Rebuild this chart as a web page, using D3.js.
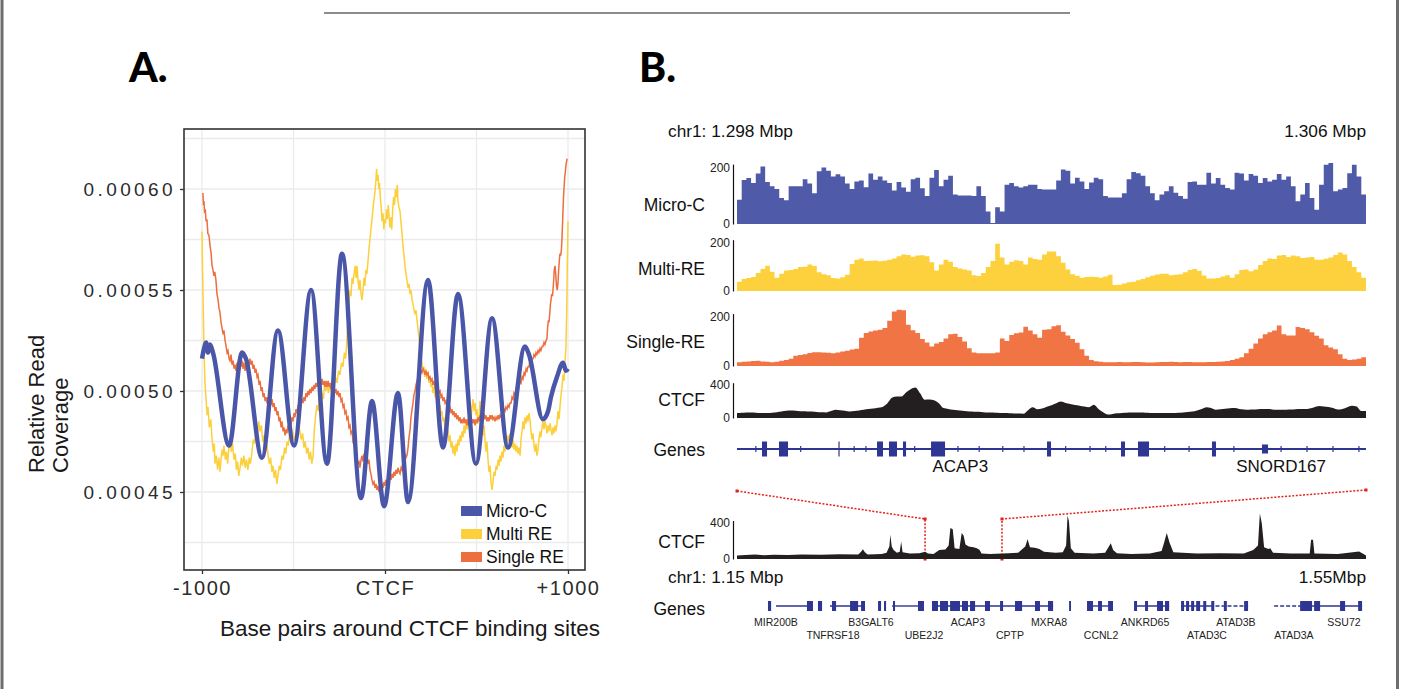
<!DOCTYPE html>
<html lang="en">
<head>
<meta charset="UTF-8"/>
<title>Micro-C vs RE coverage around CTCF</title>
<script src="https://d3js.org/d3.v7.min.js"></script>
<style>
  body { margin: 0; background: #fff; }
  svg text { font-family: "Liberation Sans", Arial, sans-serif; }
</style>
</head>
<body>
<script>

// ---------- panel A data (bp around CTCF, relative coverage) ----------
var microcPos = [-1000,-989,-978,-967,-956,-940,-852,-781,-760,-672,-585,-497,-404,-317,-235,-131,-71,-5,71,126,235,317,399,497,585,672,765,787,863,891,907,940,973,989,1000];
var microcVal = [0.000516,0.000521,0.000524,0.000519,0.000523,0.000519,0.000473,0.000519,0.000516,0.000467,0.00053,0.000473,0.00055,0.000464,0.000568,0.000447,0.000495,0.000443,0.000499,0.000445,0.000555,0.000472,0.000548,0.000464,0.000536,0.000472,0.000522,0.000518,0.000486,0.00049,0.000497,0.000507,0.000514,0.00051,0.000511];

var multiPos = [-1000,-997,-993,-989,-984,-978,-972,-967,-960,-952,-945,-938,-933,-929,-922,-915,-908,-902,-896,-890,-885,-880,-872,-866,-860,-853,-847,-840,-833,-825,-818,-812,-805,-799,-792,-785,-779,-771,-764,-757,-749,-742,-735,-727,-720,-713,-705,-698,-690,-683,-676,-668,-661,-654,-646,-639,-632,-625,-618,-612,-605,-598,-591,-585,-578,-571,-563,-556,-549,-542,-536,-529,-521,-515,-508,-500,-493,-486,-478,-472,-465,-458,-450,-443,-436,-428,-421,-414,-407,-400,-393,-386,-379,-372,-365,-358,-351,-344,-337,-330,-323,-317,-309,-301,-294,-286,-278,-270,-262,-254,-246,-238,-230,-222,-215,-208,-202,-196,-191,-186,-180,-175,-169,-163,-158,-153,-147,-142,-137,-131,-126,-120,-115,-110,-104,-99,-93,-88,-82,-77,-71,-66,-60,-55,-50,-46,-42,-38,-34,-30,-25,-20,-16,-11,-6,-2,3,8,13,18,22,27,32,37,42,47,52,57,62,67,71,76,82,87,93,98,104,109,115,120,126,131,137,142,148,153,159,164,169,175,180,186,191,197,202,208,213,218,224,229,235,241,246,251,257,262,268,273,279,284,290,295,301,306,311,317,322,328,333,339,344,350,355,361,366,371,377,382,388,393,399,404,410,415,421,426,432,437,443,448,454,459,465,470,476,481,487,492,497,503,508,514,519,525,530,536,541,546,552,557,563,568,574,579,585,590,596,601,607,612,618,623,628,634,639,645,650,656,661,667,672,678,683,689,694,700,705,710,716,721,727,732,738,743,749,754,760,765,771,776,781,787,792,798,803,809,814,820,825,830,836,841,847,852,858,863,869,874,880,885,891,896,902,907,913,918,923,929,934,940,945,951,956,962,967,973,978,984,989,993,996,1000];
var multiVal = [0.000579,0.00056,0.00054,0.00052,0.000504,0.000496,0.000488,0.000492,0.000482,0.000486,0.000476,0.00047,0.000474,0.000464,0.000468,0.000461,0.000467,0.00046,0.000466,0.000471,0.000468,0.000473,0.000466,0.00047,0.000464,0.000472,0.000477,0.00047,0.000474,0.000466,0.000469,0.000461,0.000465,0.000458,0.000462,0.000467,0.000463,0.000468,0.000462,0.000466,0.000461,0.000467,0.000464,0.00047,0.000476,0.000474,0.00048,0.000478,0.000485,0.00048,0.000483,0.000475,0.000478,0.000471,0.000474,0.000468,0.000464,0.000467,0.00046,0.000463,0.000457,0.000461,0.000454,0.000458,0.000463,0.000461,0.000468,0.000466,0.000472,0.000469,0.000475,0.000473,0.000479,0.000476,0.000481,0.000478,0.000475,0.000479,0.000477,0.000483,0.00048,0.000476,0.000479,0.000472,0.000475,0.000469,0.000472,0.000466,0.00047,0.000464,0.000468,0.000481,0.000488,0.000493,0.00049,0.000497,0.000494,0.000499,0.000496,0.000503,0.0005,0.000504,0.000499,0.000503,0.0005,0.000506,0.000502,0.000507,0.000504,0.00051,0.000508,0.000514,0.000512,0.000519,0.000516,0.000526,0.000538,0.000544,0.00055,0.000547,0.000556,0.000553,0.000558,0.000562,0.000556,0.000562,0.000554,0.00055,0.000555,0.000548,0.000545,0.00055,0.000556,0.000552,0.00056,0.000558,0.000564,0.00057,0.000575,0.00058,0.000585,0.00059,0.000595,0.000598,0.000604,0.00061,0.000604,0.000607,0.0006,0.000603,0.000595,0.00059,0.000584,0.000588,0.00058,0.000585,0.000583,0.00059,0.000585,0.000592,0.000587,0.000581,0.000586,0.00058,0.00059,0.000596,0.000592,0.0006,0.000596,0.000602,0.000594,0.000591,0.000589,0.000584,0.000578,0.000572,0.000567,0.000562,0.000558,0.000555,0.000551,0.000553,0.000548,0.00055,0.000545,0.000543,0.00054,0.000538,0.00054,0.000535,0.000531,0.000526,0.00052,0.000516,0.000514,0.00051,0.000512,0.000507,0.000511,0.000506,0.000509,0.000504,0.000506,0.000502,0.000504,0.000499,0.000502,0.000497,0.000499,0.000494,0.000497,0.000491,0.000493,0.000488,0.00049,0.000485,0.000487,0.000481,0.000484,0.000478,0.000481,0.000475,0.000478,0.000472,0.000475,0.000469,0.000473,0.000468,0.000474,0.00047,0.000476,0.000473,0.000478,0.000475,0.00048,0.000477,0.000483,0.000479,0.000485,0.000481,0.000487,0.000484,0.000489,0.000486,0.000492,0.000496,0.00049,0.000494,0.000488,0.000491,0.000484,0.000487,0.000495,0.000489,0.000484,0.000478,0.000483,0.000476,0.00047,0.000475,0.000466,0.00046,0.000463,0.000455,0.000451,0.000455,0.00046,0.000458,0.000463,0.000461,0.000466,0.000463,0.000468,0.000465,0.00047,0.000467,0.000473,0.00047,0.000476,0.000473,0.000478,0.000475,0.000479,0.000476,0.000472,0.000476,0.000471,0.000474,0.00047,0.000473,0.000469,0.000472,0.000468,0.000476,0.00048,0.000485,0.000481,0.000487,0.000484,0.000488,0.000485,0.000489,0.000486,0.00048,0.000476,0.000479,0.000473,0.00047,0.000474,0.000468,0.000471,0.000476,0.00048,0.000477,0.000482,0.000485,0.000481,0.000485,0.000483,0.000479,0.000483,0.00048,0.000484,0.000481,0.000478,0.000482,0.000479,0.000483,0.00048,0.000484,0.00049,0.000486,0.000492,0.000498,0.000502,0.000508,0.000505,0.000515,0.000522,0.00054,0.00056,0.000584];

var singlePos = [-995,-992,-989,-986,-982,-978,-973,-968,-962,-956,-950,-945,-940,-935,-930,-924,-918,-912,-907,-902,-896,-890,-885,-880,-874,-868,-863,-858,-852,-847,-841,-836,-830,-825,-820,-814,-809,-803,-798,-792,-787,-781,-776,-771,-765,-760,-754,-749,-743,-738,-732,-727,-721,-716,-710,-705,-699,-694,-688,-683,-677,-672,-666,-661,-655,-650,-645,-639,-634,-628,-623,-617,-612,-606,-601,-596,-590,-585,-579,-574,-568,-563,-557,-552,-546,-541,-536,-530,-525,-519,-514,-508,-503,-497,-492,-486,-481,-475,-470,-465,-459,-454,-448,-443,-437,-432,-426,-421,-415,-410,-404,-399,-393,-388,-383,-377,-372,-366,-361,-355,-350,-344,-339,-333,-328,-322,-317,-311,-306,-300,-295,-290,-284,-279,-273,-268,-262,-257,-251,-246,-240,-235,-229,-224,-219,-213,-208,-202,-197,-191,-186,-180,-175,-169,-164,-158,-153,-148,-142,-137,-131,-126,-120,-115,-109,-104,-98,-93,-88,-82,-77,-71,-66,-60,-55,-49,-44,-38,-33,-27,-22,-16,-11,-5,0,5,11,16,22,27,33,38,44,49,55,60,66,71,77,82,88,93,98,104,109,115,120,126,131,137,142,148,153,158,164,169,175,180,186,191,197,202,208,213,218,224,229,235,240,246,251,257,262,268,273,279,284,290,295,301,306,311,317,322,328,333,339,344,350,355,361,366,371,377,382,388,393,399,404,410,415,421,426,432,437,443,448,454,459,465,470,476,481,487,492,497,503,508,514,519,525,530,536,541,546,552,557,563,568,574,579,585,590,596,601,607,612,618,623,628,634,639,645,650,656,661,667,672,678,683,689,694,700,705,710,716,721,727,732,738,743,749,754,760,765,771,776,781,787,792,798,803,809,814,820,825,830,836,841,847,852,858,863,869,874,880,885,889,893,896,900,904,907,911,915,918,922,925,929,933,937,941,945,949,953,956,960,964,967,971,975,978,982,985,989,993,995];
var singleVal = [0.000598,0.000592,0.000594,0.000588,0.00059,0.000584,0.000585,0.000578,0.000577,0.000572,0.000568,0.000562,0.00056,0.000557,0.000559,0.000555,0.000548,0.000545,0.000541,0.000539,0.000534,0.000531,0.000528,0.00053,0.000525,0.000522,0.000519,0.00052,0.000516,0.000515,0.000518,0.000513,0.000515,0.000511,0.000513,0.00051,0.000514,0.000512,0.000517,0.000515,0.000512,0.000515,0.000511,0.000514,0.00051,0.000513,0.000511,0.000515,0.000512,0.000516,0.000513,0.000515,0.000511,0.000513,0.000509,0.000511,0.000507,0.000508,0.000503,0.000505,0.0005,0.000502,0.000497,0.000499,0.000495,0.000497,0.000494,0.000497,0.000494,0.000497,0.000493,0.000496,0.000492,0.000494,0.00049,0.000492,0.000488,0.00049,0.000485,0.000487,0.000482,0.000485,0.00048,0.000482,0.000478,0.000481,0.000479,0.000483,0.000481,0.000485,0.000483,0.000487,0.000485,0.000489,0.000487,0.000491,0.000489,0.000493,0.000491,0.000494,0.000493,0.000496,0.000494,0.000497,0.000495,0.000499,0.000497,0.0005,0.000498,0.000501,0.000499,0.000502,0.0005,0.000503,0.000501,0.000504,0.000502,0.000505,0.000503,0.000506,0.000503,0.000506,0.000503,0.000505,0.000502,0.000505,0.000502,0.000505,0.000502,0.000504,0.000501,0.000503,0.0005,0.000502,0.000499,0.000501,0.000498,0.0005,0.000497,0.000499,0.000495,0.000496,0.000492,0.000493,0.000489,0.00049,0.000486,0.000487,0.000482,0.000483,0.000479,0.00048,0.000475,0.000476,0.000471,0.00047,0.000466,0.000464,0.000465,0.000462,0.000466,0.000468,0.000465,0.000469,0.000467,0.00047,0.000468,0.000464,0.000466,0.000461,0.000459,0.000456,0.000454,0.000455,0.000452,0.000454,0.000451,0.000453,0.00045,0.000453,0.000451,0.000454,0.000452,0.000455,0.000453,0.000456,0.000454,0.000457,0.000455,0.000458,0.000456,0.000459,0.000457,0.00046,0.000458,0.000461,0.000459,0.000462,0.00046,0.000459,0.000462,0.000461,0.000465,0.000466,0.000469,0.000467,0.000468,0.000472,0.000477,0.000481,0.000487,0.000491,0.000494,0.000498,0.0005,0.000503,0.000505,0.000504,0.000507,0.000508,0.00051,0.000509,0.000511,0.00051,0.000508,0.00051,0.000508,0.000509,0.000506,0.000507,0.000505,0.000506,0.000503,0.000505,0.000502,0.000503,0.0005,0.000502,0.000499,0.0005,0.000497,0.000498,0.000495,0.000497,0.000494,0.000495,0.000492,0.000494,0.000491,0.000492,0.000489,0.000491,0.000488,0.00049,0.000487,0.000489,0.000486,0.000488,0.000485,0.000487,0.000484,0.000486,0.000484,0.000487,0.000484,0.000486,0.000483,0.000486,0.000483,0.000485,0.000483,0.000486,0.000484,0.000486,0.000483,0.000486,0.000484,0.000487,0.000485,0.000488,0.000486,0.000489,0.000487,0.000489,0.000486,0.000488,0.000485,0.000487,0.000485,0.000488,0.000486,0.000488,0.000486,0.000487,0.000485,0.000487,0.000486,0.000488,0.000486,0.000488,0.000487,0.000489,0.000488,0.000491,0.00049,0.000492,0.000491,0.000493,0.000492,0.000494,0.000494,0.000497,0.000496,0.000499,0.000498,0.000501,0.0005,0.000503,0.000502,0.000505,0.000504,0.000507,0.000506,0.000509,0.000508,0.000511,0.00051,0.000512,0.000512,0.000515,0.000514,0.000516,0.000516,0.000518,0.000517,0.000519,0.000518,0.00052,0.000519,0.000521,0.00052,0.000522,0.000522,0.000524,0.000523,0.000525,0.000526,0.000532,0.000535,0.000534,0.000538,0.000543,0.000545,0.000548,0.000547,0.00055,0.000555,0.00056,0.000562,0.000558,0.000552,0.00055,0.000553,0.00056,0.000565,0.000568,0.000567,0.00057,0.000575,0.000585,0.000595,0.0006,0.000606,0.000608,0.000612,0.000614,0.000615];

var aSeries = ["Micro-C", "Multi RE", "Single RE"];
var aColors = ["#4a56a8", "#fcd03c", "#ec6f3f"];
var aYTicks = [0.00045, 0.0005, 0.00055, 0.0006];
var aXTicks = [-1000, 0, 1000];
var aXLabels = ["-1000", "CTCF", "+1000"];

// ---------- panel B data ----------
// top window 1.298 - 1.306 Mbp, evenly spaced bins
var microTrack = [87,157,164,146,180,205,150,135,125,93,85,135,135,135,160,145,110,188,202,190,170,178,170,145,125,152,155,131,180,158,170,155,146,120,150,130,115,160,165,128,100,165,193,135,158,172,105,102,102,102,100,135,100,45,4,60,45,140,146,135,130,135,140,140,125,123,123,123,155,195,190,145,165,152,125,148,165,160,100,95,95,95,110,160,186,181,172,135,110,85,105,117,135,112,100,90,150,152,140,140,183,145,164,140,129,123,183,180,155,179,172,146,164,152,158,179,158,170,135,81,105,146,93,51,140,212,218,117,123,129,181,212,170,105];
var multiTrack = [39,50,54,58,75,92,105,80,55,72,85,87,92,100,101,110,104,78,70,66,54,52,57,68,112,130,135,125,126,127,124,126,130,135,145,152,150,143,148,149,145,120,85,110,130,122,100,94,90,85,66,62,75,100,125,197,140,110,122,128,125,110,140,133,130,152,165,165,145,118,90,70,64,55,58,59,58,55,60,68,25,26,31,36,39,45,50,57,64,69,72,72,66,68,70,78,88,92,84,65,52,52,54,60,66,55,70,88,90,82,90,108,125,135,133,148,150,142,148,145,138,140,142,130,130,134,140,150,160,152,125,100,78,55];
var singleTrack = [15,17,18,20,21,18,17,15,17,21,24,30,42,45,48,53,56,56,55,54,52,55,59,62,67,70,115,135,141,145,148,155,185,222,230,228,168,146,135,110,96,80,92,98,112,130,132,118,100,72,55,52,52,52,52,55,112,102,127,134,137,160,145,130,115,148,150,162,166,140,124,110,95,68,42,25,19,17,15,15,15,16,15,15,16,16,15,14,14,15,16,16,17,16,15,16,16,15,15,15,16,16,17,18,20,24,30,36,52,70,92,112,130,138,145,165,130,125,124,159,155,150,138,123,112,85,76,68,48,30,25,27,30,36];
var ctcfTrack = [60,64,68,66,63,60,60,60,66,75,85,92,90,85,82,80,78,74,70,68,84,100,95,88,80,85,92,100,108,115,125,134,175,245,260,260,310,350,370,300,222,225,215,180,120,110,100,95,88,82,78,75,72,68,66,64,62,60,58,56,54,52,95,130,105,115,135,155,180,200,182,170,158,150,140,130,160,110,70,42,50,58,62,65,66,68,66,64,62,60,60,60,60,60,64,68,72,78,92,110,130,120,100,105,112,118,120,110,104,100,102,106,108,108,104,100,100,100,102,105,108,108,115,130,145,140,132,120,102,110,130,148,140,85];

// top gene model (kb)
var topExonStart = [1298.318,1298.534,1299.290,1299.781,1299.933,1300.111,1300.468,1301.943,1302.884,1303.100,1304.041,1304.677];
var topExonEnd   = [1298.382,1298.649,1299.305,1299.857,1300.035,1300.150,1300.646,1301.994,1302.935,1303.240,1304.092,1304.754];
var topExonSmall = [false,false,false,false,false,false,false,false,false,false,false,true];
var topArrows = [1298.24,1298.81,1299.49,1299.64,1300.26,1300.81,1301.08,1301.38,1301.65,1302.18,1302.49,1302.69,1303.44,1303.75,1304.32,1304.92,1305.25,1305.58,1305.91];
var topGeneNames = ["ACAP3", "SNORD167"];
var topGenePos = [1300.84, 1304.92];

// wide window 1.15 - 1.55 Mbp, CTCF (kb, value)
var ctcfWidePos = [1150,1155.4,1161.4,1167.3,1173.3,1182.3,1191.3,1203.2,1215.2,1227.1,1228.9,1230.1,1231.3,1233.1,1242.1,1245.1,1246.9,1247.5,1248.4,1249.6,1251.7,1253.5,1254.4,1255.3,1260,1266,1269.6,1271.4,1275,1278.6,1282.5,1284.6,1285.7,1287.2,1288.4,1291.4,1292.9,1294.1,1295.3,1297.4,1300.4,1302.5,1304.3,1305.5,1310.9,1318.6,1322.8,1328.8,1333.3,1334.8,1336.3,1339.3,1342.3,1345.2,1352.7,1357.2,1359.3,1360.2,1361.1,1362.3,1364.7,1376.6,1384.1,1386.2,1387.7,1389.2,1391.6,1400.6,1412.5,1420,1421.5,1423.3,1425.1,1427.5,1442.4,1457.4,1472.3,1478.3,1481.3,1482.5,1483.7,1485.2,1487.9,1489.1,1490.9,1502.2,1514.2,1515.1,1516.3,1517.2,1532.1,1545.6,1549.5,1550];
var ctcfWideVal = [40,45,50,42,48,44,50,46,52,50,80,108,75,50,55,70,140,270,140,100,70,80,195,75,60,65,80,60,55,100,105,150,344,330,120,110,288,260,160,138,130,120,100,60,55,60,65,70,140,220,130,125,110,80,70,75,150,482,420,120,70,60,70,130,176,100,65,55,60,90,176,288,180,75,60,65,60,100,150,505,400,130,110,120,70,60,62,213,213,62,55,82,45,40];
var zoomFrom = 1269.6, zoomTo = 1318.5;

// wide gene models (kb)
var spanStart = [1174.8,1209.1,1248.6,1274.0,1372.6,1402.5,1432.4,1490.3];
var spanEnd   = [1198.3,1231.4,1268.9,1351.0,1389.1,1424.8,1475.0,1547.5];
var dashStart = [1453.0, 1490.3];
var dashEnd   = [1475.0, 1508.1];
var exonStart = [1169.7,1194.5,1201.5,1210.4,1221.9,1228.9,1239.7,1243.5,1249.2,1265.1,1274.0,1279.1,1285.5,1293.1,1298.2,1307.7,1317.3,1326.8,1339.5,1347.8,1361.2,1372.6,1379.6,1386.0,1402.5,1409.5,1417.1,1422.2,1432.4,1435.6,1438.8,1442.0,1446.5,1451.6,1459.6,1472.5,1508.1,1517.0,1533.5,1545.0];
var exonEnd   = [1171.7,1198.3,1204.1,1213.0,1227.0,1231.4,1241.6,1244.8,1250.5,1268.9,1277.8,1284.2,1291.8,1296.9,1301.4,1310.9,1319.2,1331.3,1342.7,1351.0,1362.4,1376.4,1382.1,1389.1,1404.4,1411.4,1420.9,1424.8,1434.3,1437.5,1440.7,1444.5,1448.4,1453.5,1461.5,1475.0,1515.7,1520.8,1536.7,1547.5];
var geneNames = ["MIR200B","TNFRSF18","B3GALT6","UBE2J2","ACAP3","CPTP","MXRA8","CCNL2","ANKRD65","ATAD3C","ATAD3B","ATAD3A","SSU72"];
var genePos   = [1174.8,1211,1235.2,1268.9,1296.9,1323.6,1348.4,1381.5,1409.5,1448.9,1467.3,1504.2,1536];
var geneRow   = [0,1,0,1,0,1,0,1,0,1,0,1,0];

var trackColors = {micro: "#4f5aa8", multi: "#fdd13e", single: "#f17444", ctcf: "#231f20", gene: "#2e3592"};

// ---------- svg ----------
var w = 1401, h = 689;
var svg = d3.select("body").append("svg").attr("width", w).attr("height", h);

// page frame
svg.append("line").attr("x1", 2).attr("x2", 2).attr("y1", 0).attr("y2", h)
	.attr("stroke", "#6d6d6d").attr("stroke-width", 3);
svg.append("line").attr("x1", 1397.5).attr("x2", 1397.5).attr("y1", 0).attr("y2", h)
	.attr("stroke", "#6d6d6d").attr("stroke-width", 3);
svg.append("line").attr("x1", 324).attr("x2", 1070).attr("y1", 13).attr("y2", 13)
	.attr("stroke", "#8c8c8c").attr("stroke-width", 2);

svg.append("text").attr("x", 129).attr("y", 82).text("A.")
	.style("font-family", "Lato, sans-serif").style("font-weight", 900).style("font-size", "41px");
svg.append("text").attr("x", 639).attr("y", 82).text("B.")
	.style("font-family", "Lato, sans-serif").style("font-weight", 900).style("font-size", "41px");

// ================= panel A =================
var box = {l: 184, t: 129, r: 585, b: 570};
var ax = d3.scaleLinear().domain([-1000, 1000]).range([202, 568]);
var ay = d3.scaleLinear().domain([0.00045, 0.0006]).range([492, 189]);

var gA = svg.append("g");
svg.append("clipPath").attr("id", "clipA").append("rect")
	.attr("x", box.l).attr("y", box.t).attr("width", box.r - box.l).attr("height", box.b - box.t);

// grid
var xGrid = [-1000, -500, 0, 500, 1000];
var yGrid = [0.000425, 0.00045, 0.000475, 0.0005, 0.000525, 0.00055, 0.000575, 0.0006, 0.000625];
gA.selectAll(".vg").data(xGrid).enter().append("line")
	.attr("x1", function(d){ return ax(d); }).attr("x2", function(d){ return ax(d); })
	.attr("y1", box.t).attr("y2", box.b)
	.attr("stroke", "#ebebeb").attr("stroke-width", 1.3);
gA.selectAll(".hg").data(yGrid).enter().append("line")
	.attr("x1", box.l).attr("x2", box.r)
	.attr("y1", function(d){ return ay(d); }).attr("y2", function(d){ return ay(d); })
	.attr("stroke", "#ebebeb").attr("stroke-width", 1.3);

var lineA = d3.line()
	.x(function(d){ return ax(d[0]); })
	.y(function(d){ return ay(d[1]); });

var plotA = gA.append("g").attr("clip-path", "url(#clipA)");
plotA.append("path").datum(d3.zip(multiPos, multiVal))
	.attr("d", lineA.curve(d3.curveLinear))
	.attr("fill", "none").attr("stroke", aColors[1]).attr("stroke-width", 1.5);
plotA.append("path").datum(d3.zip(singlePos, singleVal))
	.attr("d", lineA.curve(d3.curveLinear))
	.attr("fill", "none").attr("stroke", aColors[2]).attr("stroke-width", 1.5);
plotA.append("path").datum(d3.zip(microcPos, microcVal))
	.attr("d", lineA.curve(d3.curveMonotoneX))
	.attr("fill", "none").attr("stroke", aColors[0]).attr("stroke-width", 4.5)
	.attr("stroke-linejoin", "round");

// border
gA.append("rect").attr("x", box.l).attr("y", box.t)
	.attr("width", box.r - box.l).attr("height", box.b - box.t)
	.attr("fill", "none").attr("stroke", "#333").attr("stroke-width", 1.6);

// axes
var yAxisA = d3.axisLeft(ay).tickValues(aYTicks).tickFormat(d3.format(".5f"))
	.tickSize(4).tickPadding(4);
var gy = gA.append("g").attr("transform", "translate(" + box.l + ",0)").call(yAxisA);
gy.select(".domain").remove();
gy.selectAll("line").attr("stroke", "#333").attr("stroke-width", 1.3);
gy.selectAll("text").style("font-size", "19px").style("letter-spacing", "3.4px")
	.attr("fill", "#2b2b2b");

var xAxisA = d3.axisBottom(ax).tickValues(aXTicks)
	.tickFormat(function(d, i){ return aXLabels[i]; })
	.tickSize(4).tickPadding(7);
var gx = gA.append("g").attr("transform", "translate(0," + box.b + ")").call(xAxisA);
gx.select(".domain").remove();
gx.selectAll("line").attr("stroke", "#333").attr("stroke-width", 1.3);
gx.selectAll("text").style("font-size", "20px").style("letter-spacing", "1.6px")
	.attr("fill", "#2b2b2b");

// axis titles
gA.append("text").attr("transform", "translate(44,473) rotate(-90)")
	.style("font-size", "22px").attr("fill", "#1a1a1a").text("Relative Read");
gA.append("text").attr("transform", "translate(68,473) rotate(-90)")
	.style("font-size", "22px").attr("fill", "#1a1a1a").text("Coverage");
gA.append("text").attr("x", 410).attr("y", 636).attr("text-anchor", "middle")
	.style("font-size", "22.5px").attr("fill", "#1a1a1a").text("Base pairs around CTCF binding sites");

// legend
var leg = gA.selectAll(".leg").data(aSeries).enter().append("g")
	.attr("transform", function(d, i){ return "translate(461," + (511 + i * 23) + ")"; });
leg.append("rect").attr("x", 0).attr("y", -5).attr("width", 21).attr("height", 10)
	.attr("fill", function(d, i){ return aColors[i]; });
leg.append("text").attr("x", 25).attr("dy", "0.36em").style("font-size", "17.5px")
	.attr("fill", "#111").text(function(d){ return d; });

// ================= panel B =================
var xL = 737, xR = 1366;
var xTop = d3.scaleLinear().domain([1298, 1306]).range([xL, xR]);
var xBot = d3.scaleLinear().domain([1150, 1550]).range([xL, xR]);
var gB = svg.append("g");

function label(txt, y) {
	gB.append("text").attr("x", 705).attr("y", y).attr("dy", "0.35em")
		.attr("text-anchor", "end").style("font-size", "17.5px").attr("fill", "#111").text(txt);
}

function trackAxis(base, px, maxV) {
	var ty = d3.scaleLinear().domain([0, maxV]).range([base, base - px]);
	var yAx = d3.axisLeft(d3.scaleLinear().domain([0, maxV * 1.07]).range([base, base - px * 1.07]))
		.tickValues([0, maxV]).tickSize(0).tickSizeOuter(0).tickPadding(3);
	var g = gB.append("g").attr("transform", "translate(733,0)").call(yAx);
	g.select(".domain").attr("stroke", "#111").attr("stroke-width", 1.2);
	g.selectAll("text").style("font-size", "12px").attr("fill", "#222");
	return ty;
}

function binTrack(vals, base, px, maxV, color, curve) {
	var ty = trackAxis(base, px, maxV);
	var bx = d3.scaleLinear().domain([0, vals.length]).range([xL, xR]);
	var pts = vals.concat([vals[vals.length - 1]]);
	var area = d3.area()
		.x(function(d, i){ return bx(i); })
		.y0(base)
		.y1(function(d){ return ty(d); })
		.curve(curve);
	gB.append("path").datum(pts).attr("d", area).attr("fill", color);
}

gB.append("text").attr("x", 668).attr("y", 131).attr("dy", "0.35em")
	.style("font-size", "17.3px").attr("fill", "#111").text("chr1: 1.298 Mbp");
gB.append("text").attr("x", 1366).attr("y", 131).attr("dy", "0.35em").attr("text-anchor", "end")
	.style("font-size", "17.3px").attr("fill", "#111").text("1.306 Mbp");

binTrack(microTrack, 224, 56, 200, trackColors.micro, d3.curveStepAfter);
label("Micro-C", 205);
binTrack(multiTrack, 291, 48, 200, trackColors.multi, d3.curveStepAfter);
label("Multi-RE", 269);
binTrack(singleTrack, 366, 49, 200, trackColors.single, d3.curveStepAfter);
label("Single-RE", 342);
binTrack(ctcfTrack, 418, 33, 400, trackColors.ctcf, d3.curveMonotoneX);
label("CTCF", 400);

// top genes
label("Genes", 450);
var gyTop = 449;
gB.append("line").attr("x1", xL).attr("x2", xR).attr("y1", gyTop).attr("y2", gyTop)
	.attr("stroke", trackColors.gene).attr("stroke-width", 2);
gB.selectAll(".tarrow").data(topArrows).enter().append("line")
	.attr("x1", function(d){ return xTop(d); }).attr("x2", function(d){ return xTop(d); })
	.attr("y1", gyTop - 3).attr("y2", gyTop + 3)
	.attr("stroke", trackColors.gene).attr("stroke-width", 1.2);
gB.selectAll(".texon").data(topExonStart).enter().append("rect")
	.attr("x", function(d){ return xTop(d); })
	.attr("width", function(d, i){ return Math.max(1.2, xTop(topExonEnd[i]) - xTop(d)); })
	.attr("y", function(d, i){ return topExonSmall[i] ? gyTop - 4.5 : gyTop - 7.5; })
	.attr("height", function(d, i){ return topExonSmall[i] ? 9 : 15; })
	.attr("fill", trackColors.gene);
gB.selectAll(".tname").data(topGeneNames).enter().append("text")
	.attr("x", function(d, i){ return xTop(topGenePos[i]); }).attr("y", 466).attr("dy", "0.35em")
	.attr("text-anchor", "middle").style("font-size", "17px").attr("fill", "#111")
	.text(function(d){ return d; });

// zoom connector lines
var red = "#e2231a";
var connL = [[xTop(1298), 491], [xBot(zoomFrom), 519], [xBot(zoomFrom), 559]];
var connR = [[xTop(1306), 490], [xBot(zoomTo), 519], [xBot(zoomTo), 559]];
[connL, connR].forEach(function(c) {
	gB.append("path").attr("d", d3.line()(c)).attr("fill", "none")
		.attr("stroke", red).attr("stroke-width", 1.5).attr("stroke-dasharray", "2,1.6");
	gB.selectAll(null).data(c).enter().append("rect")
		.attr("x", function(d){ return d[0] - 1.5; }).attr("y", function(d){ return d[1] - 1.5; })
		.attr("width", 3).attr("height", 3).attr("fill", red);
});

// wide CTCF
var tyW = trackAxis(559, 36, 400);
var areaW = d3.area()
	.x(function(d){ return xBot(d[0]); })
	.y0(559)
	.y1(function(d){ return tyW(d[1]); });
gB.append("path").datum(d3.zip(ctcfWidePos, ctcfWideVal)).attr("d", areaW)
	.attr("fill", trackColors.ctcf);
label("CTCF", 542);

gB.append("text").attr("x", 668).attr("y", 577).attr("dy", "0.35em")
	.style("font-size", "17.3px").attr("fill", "#111").text("chr1: 1.15 Mbp");
gB.append("text").attr("x", 1366).attr("y", 577).attr("dy", "0.35em").attr("text-anchor", "end")
	.style("font-size", "17.3px").attr("fill", "#111").text("1.55Mbp");

// wide genes
label("Genes", 609);
var gyBot = 606;
gB.selectAll(".span").data(spanStart).enter().append("line")
	.attr("x1", function(d){ return xBot(d); })
	.attr("x2", function(d, i){ return xBot(spanEnd[i]); })
	.attr("y1", gyBot).attr("y2", gyBot)
	.attr("stroke", trackColors.gene).attr("stroke-width", 1.4);
gB.selectAll(".dash").data(dashStart).enter().append("line")
	.attr("x1", function(d){ return xBot(d); })
	.attr("x2", function(d, i){ return xBot(dashEnd[i]); })
	.attr("y1", gyBot).attr("y2", gyBot)
	.attr("stroke", "#fff").attr("stroke-width", 2).attr("stroke-dasharray", "2,4");
gB.selectAll(".exon").data(exonStart).enter().append("rect")
	.attr("x", function(d){ return xBot(d); })
	.attr("width", function(d, i){ return Math.max(1.5, xBot(exonEnd[i]) - xBot(d)); })
	.attr("y", gyBot - 5).attr("height", 10)
	.attr("fill", trackColors.gene);
gB.selectAll(".gname").data(geneNames).enter().append("text")
	.attr("x", function(d, i){ return xBot(genePos[i]); })
	.attr("y", function(d, i){ return geneRow[i] ? 635 : 622; })
	.attr("dy", "0.35em").attr("text-anchor", "middle")
	.style("font-size", "10.5px").attr("fill", "#222")
	.text(function(d){ return d; });

</script>
</body>
</html>
